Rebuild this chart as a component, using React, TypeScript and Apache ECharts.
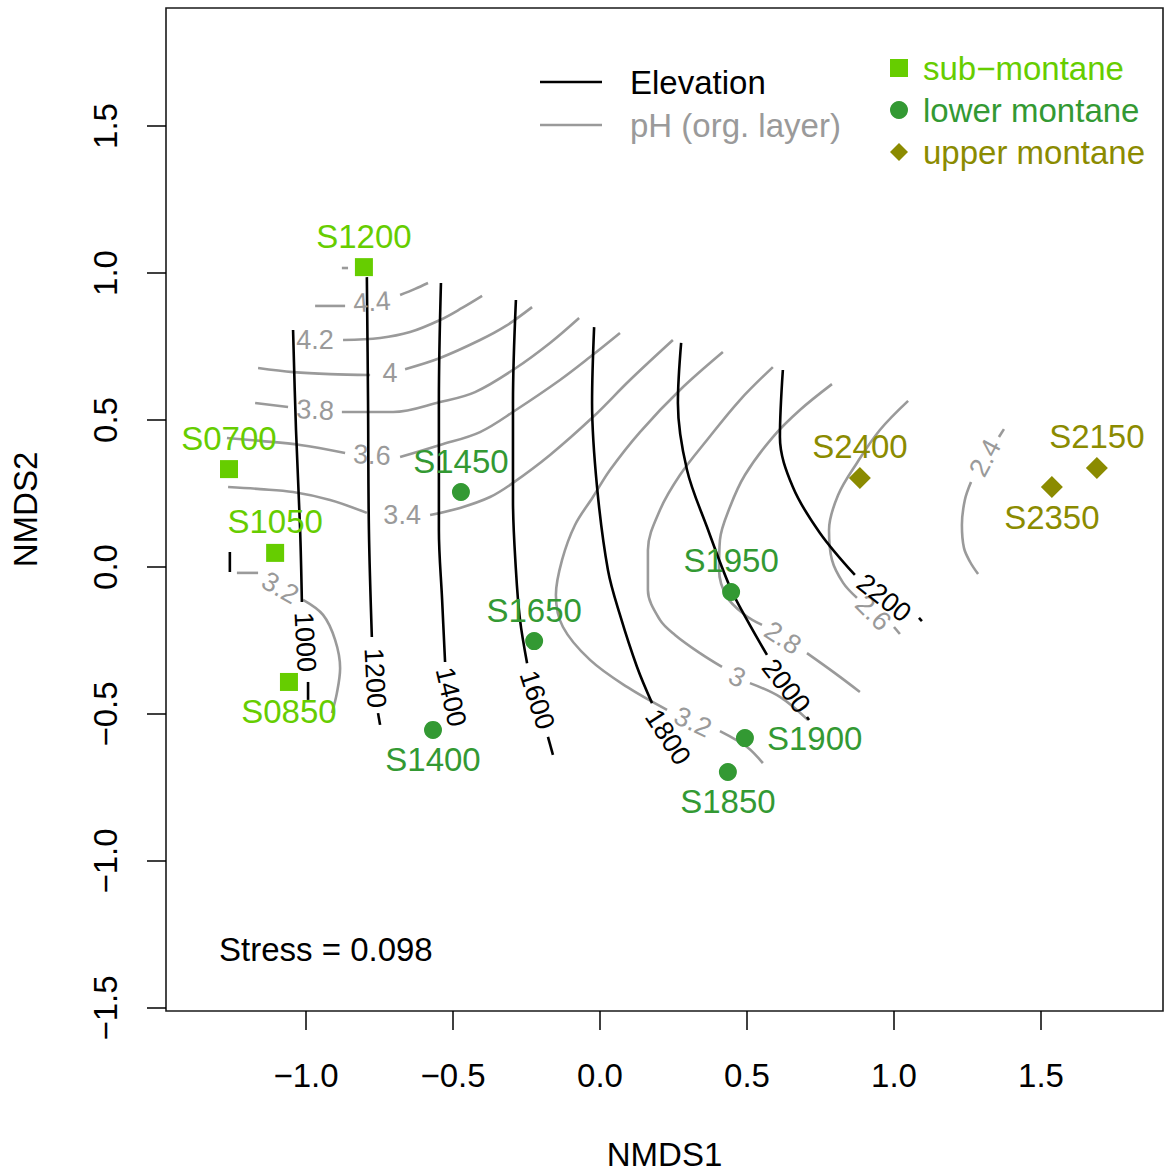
import React, { useEffect, useRef } from 'react';
import * as echarts from 'echarts';

// ---------- axes ----------
const xTicks = [-1.0, -0.5, 0.0, 0.5, 1.0, 1.5];
const yTicks = [-1.5, -1.0, -0.5, 0.0, 0.5, 1.0, 1.5];
const xRange = [-1.4762, 1.915];
const yRange = [-1.5102, 1.9014];

// ---------- sites: [name, NMDS1, NMDS2] ----------
const subMontane = [
  ['S1200', -0.803, 1.02],
  ['S0700', -1.262, 0.333],
  ['S1050', -1.105, 0.048],
  ['S0850', -1.058, -0.391],
];
const lowerMontane = [
  ['S1450', -0.473, 0.255],
  ['S1650', -0.224, -0.252],
  ['S1400', -0.568, -0.554],
  ['S1950', 0.446, -0.085],
  ['S1900', 0.493, -0.582],
  ['S1850', 0.435, -0.697],
];
const upperMontane = [
  ['S2400', 0.884, 0.303],
  ['S2350', 1.537, 0.272],
  ['S2150', 1.69, 0.337],
];
const sitesBelow = ['S0850', 'S1400', 'S1850', 'S2350'];
const sitesRight = ['S1900'];

// ---------- elevation contours (segments between labels) ----------
const elev0800 = [[[-1.259, 0.051], [-1.259, -0.017]]];
const elev1000 = [
  [[-1.044, 0.806], [-1.034, 0.466], [-1.02, 0.126], [-1.014, -0.119]],
  [[-0.993, -0.391], [-0.993, -0.452]],
];
const elev1200 = [
  [[-0.793, 0.986], [-0.789, 0.568], [-0.786, 0.126], [-0.776, -0.238]],
  [[-0.755, -0.497], [-0.748, -0.537]],
];
const elev1400 = [
  [[-0.541, 0.966], [-0.548, 0.568], [-0.548, 0.126], [-0.537, -0.112], [-0.527, -0.323]],
];
const elev1600 = [
  [[-0.286, 0.908], [-0.296, 0.558], [-0.296, 0.228], [-0.286, -0.01], [-0.272, -0.18], [-0.248, -0.327]],
  [[-0.177, -0.578], [-0.16, -0.639]],
];
const elev1800 = [
  [[-0.02, 0.816], [-0.027, 0.558], [-0.01, 0.272], [0.027, -0.01], [0.068, -0.163], [0.126, -0.34], [0.177, -0.463]],
];
const elev2000 = [
  [[0.276, 0.762], [0.265, 0.558], [0.296, 0.33], [0.364, 0.136], [0.442, -0.068], [0.5, -0.18], [0.568, -0.299]],
  [[0.704, -0.51], [0.711, -0.52]],
];
const elev2200 = [
  [[0.622, 0.67], [0.612, 0.442], [0.656, 0.272], [0.748, 0.116], [0.867, -0.027]],
  [[1.085, -0.173], [1.095, -0.184]],
];
// [text, x, y, angle]
const elevLabels = [
  ['1000', -1.003, -0.255, -87],
  ['1200', -0.765, -0.378, -87],
  ['1400', -0.507, -0.442, -77],
  ['1600', -0.214, -0.452, -72],
  ['1800', 0.231, -0.578, -57],
  ['2000', 0.633, -0.405, -52],
  ['2200', 0.966, -0.105, -38],
];

// ---------- pH contours ----------
const ph46 = [[[-0.878, 1.017], [-0.857, 1.017]]];
const ph44 = [
  [[-0.969, 0.888], [-0.867, 0.888]],
  [[-0.68, 0.925], [-0.629, 0.946], [-0.585, 0.966]],
];
const ph42 = [
  [[-0.874, 0.772], [-0.748, 0.779], [-0.646, 0.799], [-0.544, 0.84], [-0.469, 0.881], [-0.401, 0.922]],
];
const ph40 = [
  [[-1.163, 0.677], [-1.044, 0.663], [-0.918, 0.656], [-0.782, 0.653]],
  [[-0.663, 0.673], [-0.544, 0.711], [-0.408, 0.772], [-0.32, 0.82], [-0.231, 0.884]],
];
const ph38 = [
  [[-1.173, 0.558], [-1.061, 0.544]],
  [[-0.878, 0.527], [-0.704, 0.527], [-0.544, 0.561], [-0.425, 0.595], [-0.286, 0.677], [-0.17, 0.762], [-0.071, 0.847]],
];
const ph36 = [
  [[-1.269, 0.439], [-1.156, 0.429], [-1.02, 0.415], [-0.867, 0.388]],
  [[-0.68, 0.374], [-0.544, 0.415], [-0.408, 0.459], [-0.286, 0.534], [-0.136, 0.636], [-0.034, 0.714], [0.068, 0.796]],
];
const ph34 = [
  [[-1.265, 0.272], [-1.156, 0.265], [-1.044, 0.255], [-0.918, 0.228], [-0.793, 0.184]],
  [[-0.578, 0.177], [-0.476, 0.201], [-0.374, 0.238], [-0.296, 0.286], [-0.17, 0.381], [-0.024, 0.51], [0.102, 0.636], [0.248, 0.772]],
];
const ph32 = [
  [[-1.235, -0.02], [-1.163, -0.02]],
  [[-1.01, -0.112], [-0.942, -0.163], [-0.901, -0.248], [-0.884, -0.344], [-0.895, -0.429], [-0.912, -0.497]],
  [[0.418, 0.731], [0.272, 0.602], [0.136, 0.459], [0.034, 0.33], [-0.024, 0.238], [-0.085, 0.143], [-0.129, 0.024], [-0.15, -0.095], [-0.126, -0.204], [-0.034, -0.316], [0.092, -0.408], [0.228, -0.486]],
  [[0.408, -0.558], [0.5, -0.612], [0.554, -0.667]],
];
const ph30 = [
  [[0.588, 0.68], [0.476, 0.568], [0.364, 0.432], [0.272, 0.313], [0.204, 0.194], [0.163, 0.058], [0.163, -0.078], [0.204, -0.18], [0.255, -0.231], [0.34, -0.293], [0.415, -0.34]],
  [[0.51, -0.395], [0.612, -0.442], [0.707, -0.52]],
];
const ph28 = [
  [[0.789, 0.622], [0.68, 0.534], [0.588, 0.442], [0.493, 0.313], [0.442, 0.204], [0.408, 0.092], [0.405, -0.01], [0.432, -0.102], [0.493, -0.163], [0.551, -0.197]],
  [[0.704, -0.293], [0.799, -0.361], [0.884, -0.425]],
];
const ph26 = [
  [[1.048, 0.565], [0.952, 0.466], [0.874, 0.354], [0.81, 0.245], [0.779, 0.126], [0.789, 0.024], [0.827, -0.054], [0.874, -0.105]],
  [[1.0, -0.204], [1.02, -0.228]],
];
const ph24 = [
  [[1.357, 0.442], [1.374, 0.469]],
  [[1.262, 0.289], [1.241, 0.228], [1.231, 0.143], [1.238, 0.065], [1.259, 0.017], [1.286, -0.024]],
];
const phLabels = [
  ['4.4', -0.776, 0.901, 4],
  ['4.2', -0.969, 0.772, 0],
  ['4', -0.714, 0.66, 0],
  ['3.8', -0.969, 0.534, -3],
  ['3.6', -0.776, 0.381, -3],
  ['3.4', -0.673, 0.177, 0],
  ['3.2', -1.088, -0.071, -30],
  ['3.2', 0.316, -0.527, -25],
  ['3', 0.466, -0.374, -25],
  ['2.8', 0.622, -0.241, -33],
  ['2.6', 0.929, -0.156, -45],
  ['2.4', 1.31, 0.371, 62],
];

const groupNames = ['sub\u2212montane', 'lower montane', 'upper montane'];
const statText = 'Stress = 0.098';

const FONT = "'Liberation Sans', Arial, Helvetica, sans-serif";
const C_SUB = '#66CD00';
const C_LOW = '#339933';
const C_UP = '#8B8B00';
const C_PH = '#9a9a9a';

const fmt = (v: number) => (v < 0 ? '\u2212' + Math.abs(v).toFixed(1) : v.toFixed(1));

function contourSeries(sets: number[][][][], color: string) {
  const out: any[] = [];
  sets.forEach((segs) =>
    segs.forEach((seg) => {
      out.push({
        type: 'line',
        data: seg,
        showSymbol: false,
        symbol: 'none',
        smooth: 0.35,
        silent: true,
        lineStyle: { color, width: 2.6 },
        z: 2,
      });
    })
  );
  return out;
}

function labelSeries(labels: any[], color: string) {
  return {
    type: 'scatter',
    silent: true,
    symbolSize: 1,
    itemStyle: { color: 'rgba(0,0,0,0)', opacity: 1 },
    z: 3,
    data: labels.map((l) => ({
      value: [l[1], l[2]],
      label: {
        show: true,
        position: 'inside',
        formatter: l[0],
        rotate: l[3],
        color,
        fontSize: 27,
        fontFamily: FONT,
      },
    })),
  };
}

function siteSeries(name: string, sites: any[], symbol: string, size: number, color: string) {
  return {
    type: 'scatter',
    name,
    symbol,
    symbolSize: size,
    itemStyle: { color, opacity: 1 },
    z: 5,
    data: sites.map((s) => {
      const below = sitesBelow.includes(s[0]);
      const right = sitesRight.includes(s[0]);
      return {
        name: s[0],
        value: [s[1], s[2]],
        label: right
          ? { show: true, position: 'right', distance: 13, formatter: s[0], color, fontSize: 33, fontFamily: FONT }
          : {
              show: true,
              position: 'inside',
              offset: [0, below ? 30 : -31],
              formatter: s[0],
              color,
              fontSize: 33,
              fontFamily: FONT,
            },
      };
    }),
  };
}

export default function App() {
  const ref = useRef<HTMLDivElement>(null);
  useEffect(() => {
    if (!ref.current) return;
    const chart = echarts.init(ref.current, null, { renderer: 'svg' });
    const option: any = {
      animation: false,
      backgroundColor: '#ffffff',
      grid: {
        left: 166,
        top: 8,
        width: 997,
        height: 1003,
        show: true,
        borderColor: '#1a1a1a',
        borderWidth: 1.6,
        backgroundColor: 'transparent',
        containLabel: false,
        outerBoundsMode: 'none',
      },
      xAxis: {
        type: 'value',
        min: xRange[0],
        max: xRange[1],
        name: 'NMDS1',
        nameLocation: 'middle',
        nameGap: 127,
        nameTextStyle: { fontSize: 33, color: '#000', fontFamily: FONT },
        axisLine: { show: false, onZero: false },
        splitLine: { show: false },
        axisTick: {
          show: true,
          inside: false,
          length: 19,
          lineStyle: { color: '#000', width: 1.5 },
          customValues: xTicks,
        },
        axisLabel: {
          customValues: xTicks,
          formatter: fmt,
          margin: 48,
          fontSize: 33,
          color: '#000',
          fontFamily: FONT,
        },
      },
      yAxis: {
        type: 'value',
        min: yRange[0],
        max: yRange[1],
        name: 'NMDS2',
        nameLocation: 'middle',
        nameGap: 124,
        nameTextStyle: { fontSize: 33, color: '#000', fontFamily: FONT },
        axisLine: { show: false, onZero: false },
        splitLine: { show: false },
        axisTick: {
          show: true,
          inside: false,
          length: 19,
          lineStyle: { color: '#000', width: 1.5 },
          customValues: yTicks,
        },
        axisLabel: {
          customValues: yTicks,
          formatter: fmt,
          rotate: 90,
          margin: 44,
          fontSize: 33,
          color: '#000',
          fontFamily: FONT,
        },
      },
      legend: {
        orient: 'vertical',
        left: 885,
        top: 46,
        itemWidth: 18,
        itemHeight: 18,
        itemGap: 8,
        selectedMode: false,
        textStyle: { fontSize: 33, lineHeight: 34, fontFamily: FONT, padding: [0, 0, 0, 10] },
        data: [
          { name: groupNames[0], textStyle: { color: C_SUB } },
          { name: groupNames[1], textStyle: { color: C_LOW } },
          { name: groupNames[2], textStyle: { color: C_UP } },
        ],
      },
      graphic: [
        { type: 'line', shape: { x1: 540, y1: 82, x2: 602, y2: 82 }, style: { stroke: '#000', lineWidth: 2.6 } },
        {
          type: 'text',
          x: 630,
          y: 82,
          style: { text: 'Elevation', fill: '#000', font: `33px ${FONT}`, verticalAlign: 'middle', align: 'left' },
        },
        { type: 'line', shape: { x1: 540, y1: 125, x2: 602, y2: 125 }, style: { stroke: C_PH, lineWidth: 2.6 } },
        {
          type: 'text',
          x: 630,
          y: 125,
          style: { text: 'pH (org. layer)', fill: C_PH, font: `33px ${FONT}`, verticalAlign: 'middle', align: 'left' },
        },
        {
          type: 'text',
          x: 219,
          y: 949,
          style: { text: statText, fill: '#000', font: `33px ${FONT}`, verticalAlign: 'middle', align: 'left' },
        },
      ],
      series: [
        ...contourSeries([ph46, ph44, ph42, ph40, ph38, ph36, ph34, ph32, ph30, ph28, ph26, ph24] as any, C_PH),
        ...contourSeries([elev0800, elev1000, elev1200, elev1400, elev1600, elev1800, elev2000, elev2200] as any, '#000'),
        labelSeries(phLabels, C_PH),
        labelSeries(elevLabels, '#000'),
        siteSeries(groupNames[0], subMontane, 'rect', 18, C_SUB),
        siteSeries(groupNames[1], lowerMontane, 'circle', 18, C_LOW),
        siteSeries(groupNames[2], upperMontane, 'diamond', 22, C_UP),
      ],
    };
    chart.setOption(option);
    return () => chart.dispose();
  }, []);
  return (
    <div
      ref={ref}
      style={{ position: 'absolute', left: 0, top: 0, width: 1165, height: 1172, background: '#fff' }}
    />
  );
}
